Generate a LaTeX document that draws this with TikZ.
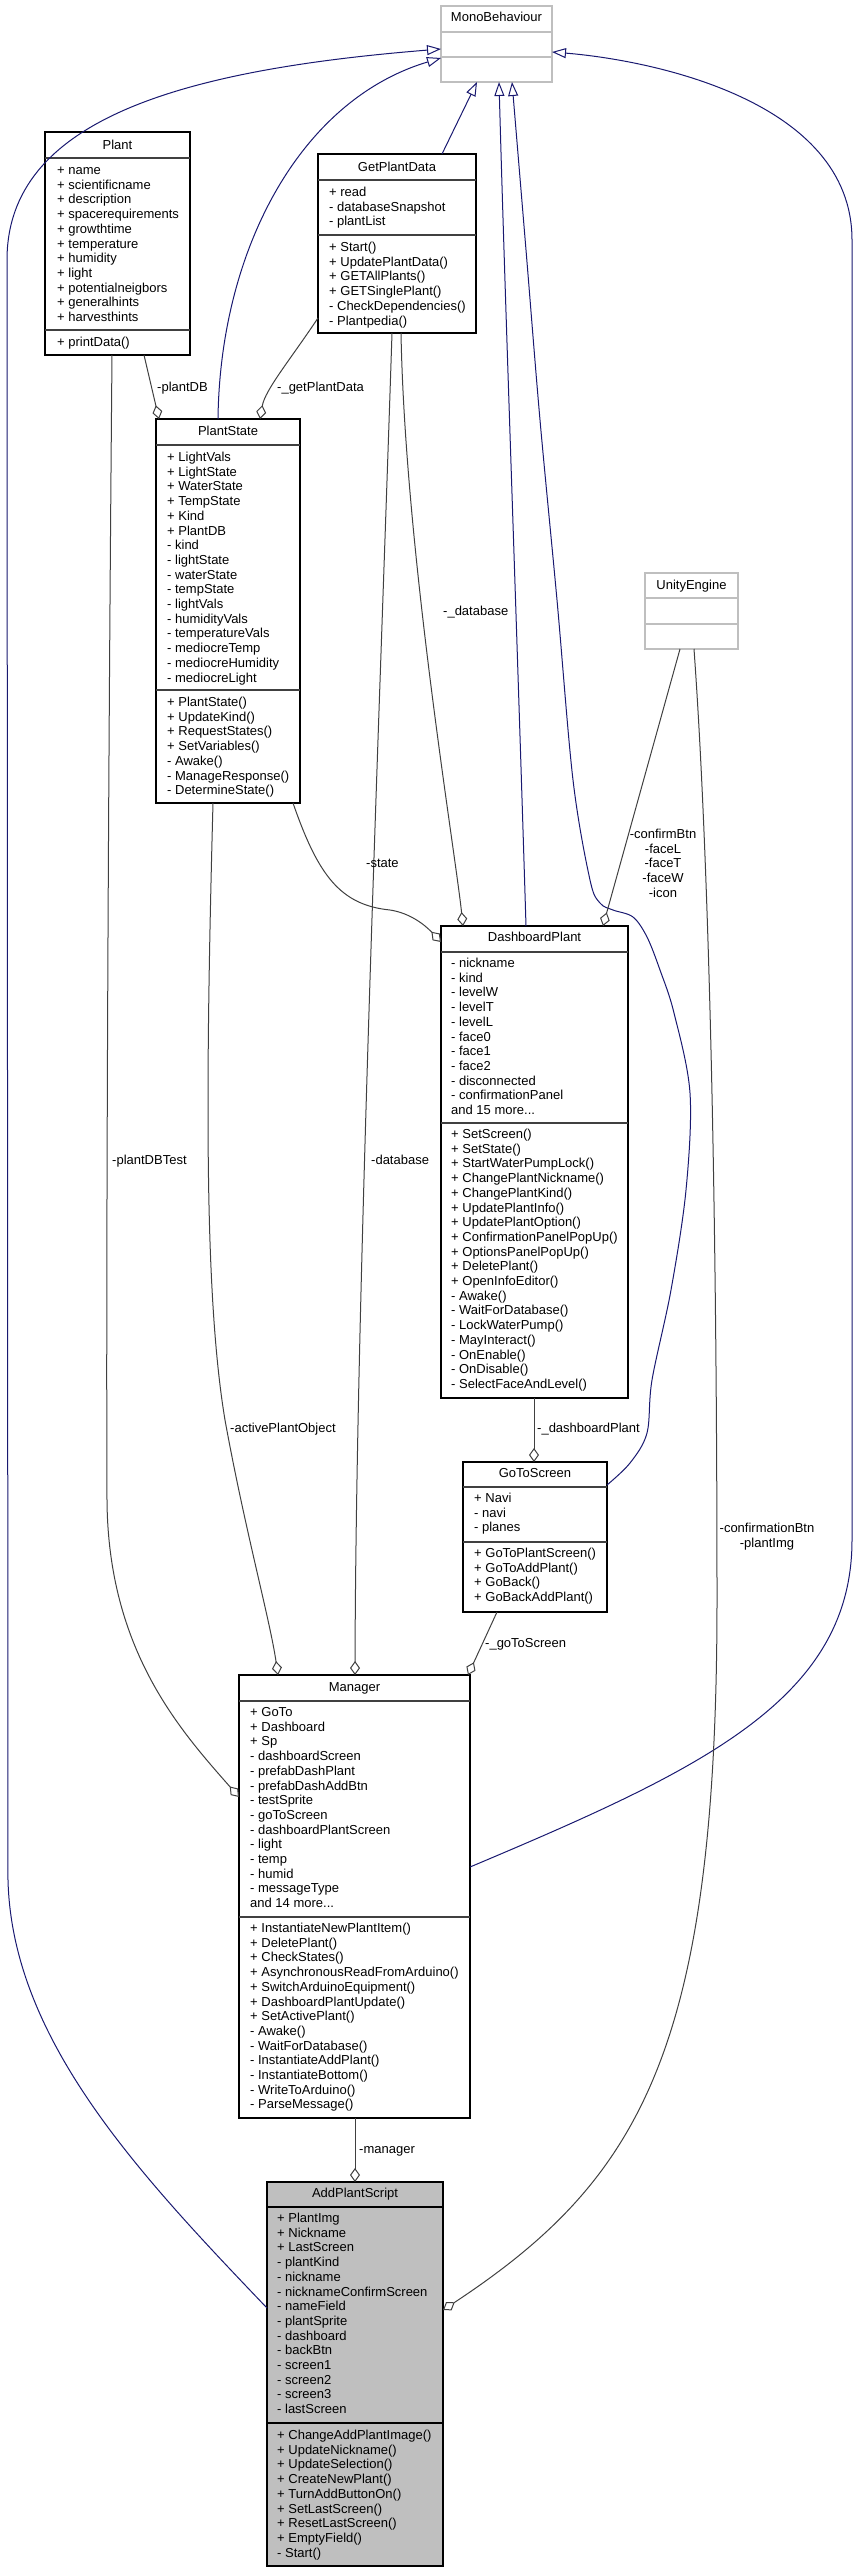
\documentclass[tikz,border=0pt]{standalone}
\usepackage{fontspec}
\setmainfont{Liberation Sans}
\usetikzlibrary{arrows.meta}
\definecolor{inhc}{HTML}{191970}
\definecolor{aggc}{HTML}{404040}
\definecolor{extc}{HTML}{BFBFBF}
\definecolor{selc}{HTML}{BFBFBF}
\newcommand\clsfont{\fontsize{13}{14.7}\selectfont}
\newcommand\mdots{...}
\newcommand\mlines[3]{\foreach \t [count=\i from 0] in {#3} {\node[mtext] at (#1,#2+\i*14.7) {\t};}}
\begin{document}
\begin{tikzpicture}[x=1pt,y=-1pt,
 cbox/.style={draw=black, fill=white, line width=1.1pt, inner sep=0, outer sep=0, anchor=north west},
 xbox/.style={draw=extc, fill=white, line width=1.4pt, inner sep=0, outer sep=0, anchor=north west},
 sepl/.style={draw=aggc, line width=1.4pt},
 xsep/.style={draw=extc, line width=1.4pt},
 mtext/.style={anchor=base west, inner sep=0, font=\clsfont},
 ttext/.style={anchor=base, inner sep=0, font=\clsfont},
 lbl/.style={anchor=base west, inner sep=0, font=\clsfont},
 clbl/.style={anchor=base, inner sep=0, font=\clsfont},
 inh/.style={draw=inhc, line width=1pt, -{Triangle[fill=white, length=14pt, width=10pt]}},
 agg/.style={draw=aggc, line width=1pt, -{Diamond[fill=white, length=14pt, width=10pt]}},
]
\useasboundingbox (0,0) rectangle (855,2572);

% ---------- MonoBehaviour ----------
\node[xbox, minimum width=111pt, minimum height=76pt] (mono) at (441,6) {};
\draw[xsep] (441,32) -- (552,32);
\draw[xsep] (441,57) -- (552,57);
\node[ttext] at (496.5,22) {MonoBehaviour};

% ---------- UnityEngine ----------
\node[xbox, minimum width=93pt, minimum height=76pt] (unity) at (645,573) {};
\draw[xsep] (645,598) -- (738,598);
\draw[xsep] (645,624) -- (738,624);
\node[ttext] at (691.5,589.5) {UnityEngine};

% ---------- Plant ----------
\node[cbox, minimum width=145pt, minimum height=223pt] (plant) at (45,132) {};
\draw[sepl] (45,158) -- (190,158);
\draw[sepl] (45,330) -- (190,330);
\node[ttext] at (117.5,149.5) {Plant};
\mlines{57}{174.5}{+ name,+ scientificname,+ description,+ spacerequirements,+ growthtime,+ temperature,+ humidity,+ light,+ potentialneigbors,+ generalhints,+ harvesthints}
\mlines{57}{346.5}{+ printData()}

% ---------- GetPlantData ----------
\node[cbox, minimum width=158pt, minimum height=179pt] (gpd) at (318,154) {};
\draw[sepl] (318,180) -- (476,180);
\draw[sepl] (318,235) -- (476,235);
\node[ttext] at (397,171.5) {GetPlantData};
\mlines{329}{196.5}{+ read,- databaseSnapshot,- plantList}
\mlines{329}{251.5}{+ Start(),+ UpdatePlantData(),+ GETAllPlants(),+ GETSinglePlant(),- CheckDependencies(),- Plantpedia()}

% ---------- PlantState ----------
\node[cbox, minimum width=144pt, minimum height=384pt] (ps) at (156,419) {};
\draw[sepl] (156,445) -- (300,445);
\draw[sepl] (156,690) -- (300,690);
\node[ttext] at (228,435.5) {PlantState};
\mlines{167}{461.5}{+ LightVals,+ LightState,+ WaterState,+ TempState,+ Kind,+ PlantDB,- kind,- lightState,- waterState,- tempState,- lightVals,- humidityVals,- temperatureVals,- mediocreTemp,- mediocreHumidity,- mediocreLight}
\mlines{167}{706.5}{+ PlantState(),+ UpdateKind(),+ RequestStates(),+ SetVariables(),- Awake(),- ManageResponse(),- DetermineState()}

% ---------- DashboardPlant ----------
\node[cbox, minimum width=187pt, minimum height=472pt] (dp) at (441,926) {};
\draw[sepl] (441,952) -- (628,952);
\draw[sepl] (441,1123) -- (628,1123);
\node[ttext] at (534.5,941.5) {DashboardPlant};
\mlines{451}{967.5}{- nickname,- kind,- levelW,- levelT,- levelL,- face0,- face1,- face2,- disconnected,- confirmationPanel,and 15 more\mdots}
\mlines{451}{1138.5}{+ SetScreen(),+ SetState(),+ StartWaterPumpLock(),+ ChangePlantNickname(),+ ChangePlantKind(),+ UpdatePlantInfo(),+ UpdatePlantOption(),+ ConfirmationPanelPopUp(),+ OptionsPanelPopUp(),+ DeletePlant(),+ OpenInfoEditor(),- Awake(),- WaitForDatabase(),- LockWaterPump(),- MayInteract(),- OnEnable(),- OnDisable(),- SelectFaceAndLevel()}

% ---------- GoToScreen ----------
\node[cbox, minimum width=144pt, minimum height=150pt] (gts) at (463,1462) {};
\draw[sepl] (463,1487) -- (607,1487);
\draw[sepl] (463,1542) -- (607,1542);
\node[ttext] at (535,1477.5) {GoToScreen};
\mlines{474}{1502.5}{+ Navi,- navi,- planes}
\mlines{474}{1557.5}{+ GoToPlantScreen(),+ GoToAddPlant(),+ GoBack(),+ GoBackAddPlant()}

% ---------- Manager ----------
\node[cbox, minimum width=231pt, minimum height=443pt] (mgr) at (239,1675) {};
\draw[sepl] (239,1701) -- (470,1701);
\draw[sepl] (239,1917) -- (470,1917);
\node[ttext] at (354.5,1691.5) {Manager};
\mlines{250}{1716.5}{+ GoTo,+ Dashboard,+ Sp,- dashboardScreen,- prefabDashPlant,- prefabDashAddBtn,- testSprite,- goToScreen,- dashboardPlantScreen,- light,- temp,- humid,- messageType,and 14 more\mdots}
\mlines{250}{1932.5}{+ InstantiateNewPlantItem(),+ DeletePlant(),+ CheckStates(),+ AsynchronousReadFromArduino(),+ SwitchArduinoEquipment(),+ DashboardPlantUpdate(),+ SetActivePlant(),- Awake(),- WaitForDatabase(),- InstantiateAddPlant(),- InstantiateBottom(),- WriteToArduino(),- ParseMessage()}

% ---------- AddPlantScript ----------
\node[cbox, fill=selc, minimum width=176pt, minimum height=384pt] (aps) at (267,2182) {};
\draw[sepl, draw=black] (267,2207) -- (443,2207);
\draw[sepl, draw=black] (267,2423) -- (443,2423);
\node[ttext] at (355,2197.5) {AddPlantScript};
\mlines{277}{2222.5}{+ PlantImg,+ Nickname,+ LastScreen,- plantKind,- nickname,- nicknameConfirmScreen,- nameField,- plantSprite,- dashboard,- backBtn,- screen1,- screen2,- screen3,- lastScreen}
\mlines{277}{2439.5}{+ ChangeAddPlantImage(),+ UpdateNickname(),+ UpdateSelection(),+ CreateNewPlant(),+ TurnAddButtonOn(),+ SetLastScreen(),+ ResetLastScreen(),+ EmptyField(),- Start()}

% ---------- inheritance ----------
\draw[inh] (aps.west |- 0,2308) .. controls (140,2175) and (12,2040) .. (8,1880) -- (7,260) .. controls (7,120) and (180,70) .. (mono.west |- 0,49);
\draw[inh] (ps.north -| 218,0) .. controls (220,250) and (300,100) .. (mono.west |- 0,58);
\draw[inh] (gpd.north -| 442,0) -- (mono.south -| 477,0);
\draw[inh] (dp.north -| 526,0) .. controls (516,600) and (505,300) .. (mono.south -| 499,0);
\draw[inh] plot[smooth, tension=0.55] coordinates {(gts.east |- 0,1485) (630,1463) (647,1433) (652,1380) (671,1290) (686,1190) (690,1093) (674,1013) (660,970) (647,937) (633,917) (613,910) (600,903) (590,880) (573,780) (557,600) (540,420) (526,250) (mono.south -| 512,0)};
\draw[inh] (mgr.east |- 0,1867) .. controls (700,1770) and (852,1700) .. (852,1540) -- (852,240) .. controls (852,100) and (650,60) .. (mono.east |- 0,52);

% ---------- aggregation ----------
\draw[agg] (plant.south -| 144,0) -- (ps.north -| 159,0);
\node[lbl] at (157,391.5) {-plantDB};
\draw[agg] (gpd.west |- 0,318) .. controls (290,360) and (265,390) .. (ps.north -| 260,0);
\node[lbl] at (277,391.5) {-\_getPlantData};
\draw[agg] (plant.south -| 112,0) .. controls (108,800) and (106,1300) .. (107,1500) .. controls (108,1650) and (180,1730) .. (mgr.west |- 0,1797);
\node[lbl] at (112,1164.5) {-plantDBTest};
\draw[agg] (ps.south -| 213,0) .. controls (205,1100) and (205,1300) .. (225,1420) .. controls (245,1530) and (270,1620) .. (mgr.north -| 278,0);
\node[lbl] at (230,1432.5) {-activePlantObject};
\draw[agg] (gpd.south -| 392,0) .. controls (380,700) and (356,1300) .. (mgr.north -| 355,0);
\node[lbl] at (371,1164.5) {-database};
\draw[agg] (gpd.south -| 401,0) .. controls (405,550) and (455,850) .. (dp.north -| 463,0);
\node[lbl] at (443,615.5) {-\_database};
\draw[agg] (ps.south -| 293,0) .. controls (318,875) and (340,905) .. (390,910) .. controls (410,913) and (425,925) .. (dp.west |- 0,942);
\node[lbl] at (366,867.5) {-state};
\draw[agg] (unity.south -| 680,0) -- (dp.north -| 603,0);
\foreach \t [count=\i from 0] in {-confirmBtn,-faceL,-faceT,-faceW,-icon} {\node[clbl] at (663,838.5+\i*14.7) {\t};}
\draw[agg] (dp.south -| 534,0) -- (gts.north -| 534,0);
\node[lbl] at (537,1432.5) {-\_dashboardPlant};
\draw[agg] (gts.south -| 497,0) -- (mgr.north -| 468,0);
\node[lbl] at (485,1647.5) {-\_goToScreen};
\draw[agg] (mgr.south -| 355,0) -- (aps.north -| 355,0);
\node[lbl] at (359,2153.5) {-manager};
\draw[agg] (unity.south -| 694,0) .. controls (712,900) and (717,1300) .. (717,1600) .. controls (717,2050) and (640,2180) .. (aps.east |- 0,2310);
\node[clbl] at (767,1532.5) {-confirmationBtn};
\node[clbl] at (767,1547.5) {-plantImg};
\end{tikzpicture}
\end{document}
